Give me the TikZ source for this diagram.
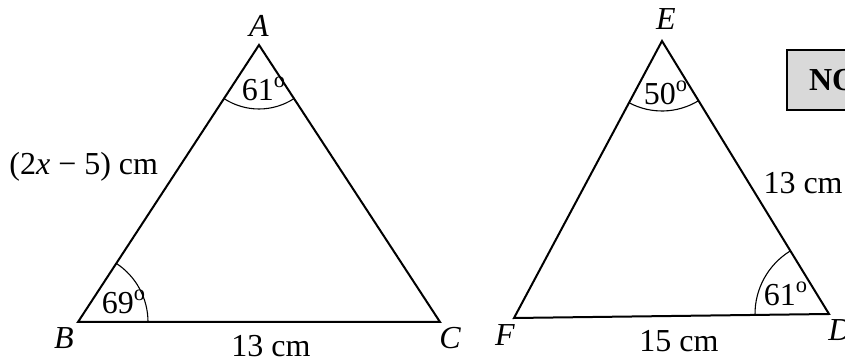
\documentclass[tikz,border=0pt]{standalone}
\usepackage{fontspec}
\setmainfont{Liberation Serif}
\usetikzlibrary{angles}

\begin{document}
\begin{tikzpicture}[x=0.5pt, y=-0.5pt,
  side/.style={line width=1pt, line join=miter},
  angarc/.style={draw, line width=0.55pt},
  vtx/.style={font=\fontsize{16}{19}\selectfont\itshape, inner sep=0pt},
  lbl/.style={font=\fontsize{16}{19}\selectfont, inner sep=0pt},
  notebox/.style={draw, line width=1pt, fill=gray!30, minimum height=30pt,
                  text width=40pt, inner xsep=11pt, align=left,
                  font=\fontsize{16}{19}\selectfont\bfseries}]
\useasboundingbox (0,0) rectangle (845,362);
\clip (0,0) rectangle (845,362);
\coordinate (A) at (259,45);
\coordinate (B) at (78,322);
\coordinate (C) at (440,322);
\coordinate (E) at (662,41);
\coordinate (F) at (514,318);
\coordinate (D) at (829,314);
\draw[side] (A) -- (B) -- (C) -- cycle;
\draw[side] (E) -- (F) -- (D) -- cycle;
\pic[angarc, angle radius=32pt] {angle=B--A--C};
\pic[angarc, angle radius=35pt] {angle=C--B--A};
\pic[angarc, angle radius=35pt] {angle=F--E--D};
\pic[angarc, angle radius=37pt] {angle=E--D--F};
\node[vtx] (lA) at (259,26) {A};
\node[vtx] (lB) at (64,338) {B};
\node[vtx] (lC) at (450,338) {C};
\node[vtx] (lE) at (666,19) {E};
\node[vtx] (lF) at (505,335) {F};
\node[vtx] (lD) at (840,330) {D};
\node[lbl] (aA) at (264,89) {61\textsuperscript{o}};
\node[lbl] (aB) at (124,302) {69\textsuperscript{o}};
\node[lbl] (aE) at (666,93) {50\textsuperscript{o}};
\node[lbl] (aD) at (786,294) {61\textsuperscript{o}};
\node[lbl, anchor=west] (sAB) at (9,167) {(2\textit{x}\hspace{0.25em}−\hspace{0.25em}5) cm};
\node[lbl] (sBC) at (271,346) {13 cm};
\node[lbl] (sFD) at (679,341) {15 cm};
\node[lbl, anchor=east] (sED) at (843,183) {13 cm};
\node[notebox, anchor=north west] (scale) at (786,49) {NO};
\end{tikzpicture}
\end{document}
